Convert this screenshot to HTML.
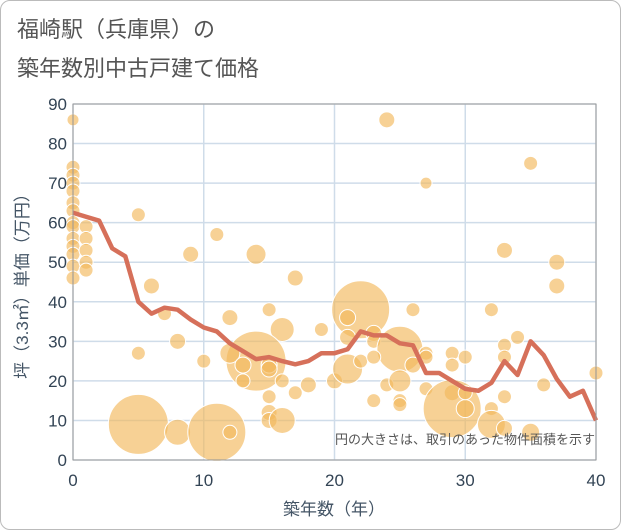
<!DOCTYPE html>
<html><head><meta charset="utf-8"><style>
body{margin:0;background:#fff;font-family:"Liberation Sans","Noto Sans CJK JP",sans-serif;}
#wrap{position:relative;width:619px;height:528px;border:1px solid #bbb;border-radius:10px;overflow:hidden;}
</style></head><body>
<div id="wrap">
<svg id="chart" width="621" height="530" style="position:absolute;left:-1px;top:-1px">
<text x="17" y="37" font-size="22" fill="#555" font-family="Liberation Sans,Noto Sans CJK JP,sans-serif">福崎駅（兵庫県）の</text>
<text x="17" y="76" font-size="22" fill="#555" font-family="Liberation Sans,Noto Sans CJK JP,sans-serif">築年数別中古戸建て価格</text>
<g id="grid"></g><g id="bubbles"></g><g id="line"></g><g id="axes"></g>
<text x="595" y="444" font-size="13" fill="#555" text-anchor="end" font-family="Liberation Sans,Noto Sans CJK JP,sans-serif">円の大きさは、取引のあった物件面積を示す</text>
<text x="334" y="515" font-size="17" fill="#456" text-anchor="middle" font-family="Liberation Sans,Noto Sans CJK JP,sans-serif">築年数（年）</text>
<text transform="translate(28,282) rotate(-90)" font-size="17" fill="#456" text-anchor="middle" font-family="Liberation Sans,Noto Sans CJK JP,sans-serif">坪（3.3㎡）単価（万円）</text>
</svg>
</div>
<script>
const xTicks=[0,10,20,30,40];
const yTicks=[0,10,20,30,40,50,60,70,80,90];
const lineYears=[0,1,2,3,4,5,6,7,8,9,10,11,12,13,14,15,16,17,18,19,20,21,22,23,24,25,26,27,28,29,30,31,32,33,34,35,36,37,38,39,40];
const lineValues=[62.5,61.5,60.5,53.5,51.5,40,37,38.5,38,35.5,33.5,32.5,29.5,27.5,25.5,26,25,24.2,25,27,27,28,32.5,31.5,31.5,29.5,29,22,22,20,18,17.5,19.5,25,21.5,30,26.5,20.5,16,17.5,10];
const bubbleX=[0,0,0,0,0,0,0,0,0,0,0,0,0,0,1,1,1,1,1,5,11,9,14,17,6,15,12,16,19,7,8,5,10,14,12,13,15,15,13,16,17,18,15,15,15,16,5,8,11,12,20,22,24,35,27,33,37,37,32,26,21,21,23,23,25,27,27,29,30,33,33,34,21,22,23,24,25,26,23,25,25,27,29,29,29,30,30,32,32,33,35,33,36,40];
const bubbleY=[86,74,72,70,68,65,63,60,59,56,54,52,49,46,59,56,53,50,48,62,57,52,52,46,44,38,36,33,33,37,30,27,25,25,27,24,24,23,20,20,17,19,16,12,10,10,9,7,7,7,20,38,86,75,70,53,50,44,38,38,36,31,32,30,28,27,26,27,26,29,26,31,23,25,26,19,20,24,15,15,14,18,24,17,13,13,17,13,9,8,7,16,19,22];
const bubbleR=[6,7,7,7,7,7,7,7,7,7,7,7,7,7,7,7,7,7,7,7,7,8,10,8,8,7,8,12,7,7,8,7,7,30,10,8,8,8,7,7,7,8,7,8,8,13,30,13,29,7,8,29,8,7,6,8,8,8,7,7,8,8,8,7,23,7,7,7,7,7,7,7,15,7,7,7,11,8,7,7,7,7,7,8,29,9,7,7,14,8,9,7,7,7];
const NS='http://www.w3.org/2000/svg';
const X0=73,X1=596,Y0=460,Y1=104;
function sx(v){return X0+(v-0)/40*(X1-X0);}
function sy(v){return Y0-(v/90)*(Y0-Y1);}
function mk(t,a,p){const e=document.createElementNS(NS,t);for(const k in a)e.setAttribute(k,a[k]);p.appendChild(e);return e;}
const grid=document.getElementById('grid'),axes=document.getElementById('axes');
yTicks.forEach(t=>{
 const l=mk('line',{x1:X0,x2:X1,y1:sy(t),y2:sy(t),stroke:'#cfdce9','stroke-width':1.5},grid);
 
 
 const tx=mk('text',{x:X0-6,y:sy(t)+6,'text-anchor':'end','font-size':17,fill:'#345'},axes);
 tx.textContent=t;
 
 
});
xTicks.forEach(t=>{
 const l=mk('line',{x1:sx(t),x2:sx(t),y1:Y1,y2:Y0,stroke:'#cfdce9','stroke-width':1.5},grid);
 
 
 const tx=mk('text',{x:sx(t),y:Y0+26,'text-anchor':'middle','font-size':17,fill:'#345'},axes);
 tx.textContent=t;
 
 
});
const fr=mk('rect',{x:X0,y:Y1,width:X1-X0,height:Y0-Y1,fill:'none',stroke:'#999','stroke-width':1},axes);


const bg=document.getElementById('bubbles');
bubbleX.forEach((x,i)=>{
 const c=mk('circle',{cx:sx(x),cy:sy(bubbleY[i]),r:bubbleR[i],fill:'#f2b85c','fill-opacity':0.65,stroke:'#fff','stroke-width':1},bg);
 
 
});
const pts=lineYears.map((x,i)=>sx(x)+','+sy(lineValues[i])).join(' ');
const pl=mk('polyline',{points:pts,fill:'none',stroke:'#d6705a','stroke-width':4.5,'stroke-linejoin':'round'},document.getElementById('line'));


</script>
</body></html>
